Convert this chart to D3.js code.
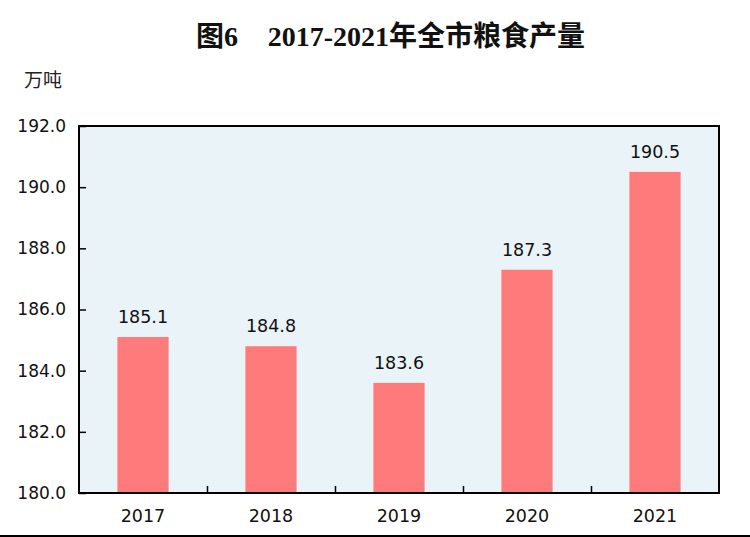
<!DOCTYPE html>
<html><head><meta charset="utf-8">
<script src="https://cdn.jsdelivr.net/npm/d3@7"></script>
<style>body{margin:0;background:#fff}svg{display:block}</style>
</head><body>
<svg id="c" width="750" height="537"></svg>
<script>
const categories = ["2017","2018","2019","2020","2021"];
const values = [185.1, 184.8, 183.6, 187.3, 190.5];
const yTicks = [180,182,184,186,188,190,192];
const titleA = "图6";
const titleB = "2017-2021年全市粮食产量";
const unit = "万吨";

const svg = d3.select("#c");
const m = {l:79, r:719, t:126, b:493};
const x = d3.scaleBand().domain(categories).range([m.l, m.r]).paddingInner(0).paddingOuter(0);
const y = d3.scaleLinear().domain([180,192]).range([m.b, m.t]);
const font = "'DejaVu Sans', sans-serif";

svg.append("rect").attr("x",m.l).attr("y",m.t).attr("width",m.r-m.l).attr("height",m.b-m.t)
  .attr("fill","#eaf3f8");

const bw = x.bandwidth()*0.4;
svg.selectAll("rect.bar").data(values).join("rect").attr("class","bar")
  .attr("x",(d,i)=>x(categories[i])+x.bandwidth()/2-bw/2)
  .attr("y",d=>y(d)).attr("width",bw).attr("height",d=>y(180)-y(d))
  .attr("fill","#ff7b7b");

svg.selectAll("text.val").data(values).join("text").attr("class","val")
  .attr("x",(d,i)=>x(categories[i])+x.bandwidth()/2)
  .attr("y",d=>y(d)-14).attr("text-anchor","middle")
  .attr("font-family",font).attr("font-size",17.5).attr("fill","#111")
  .text(d=>d.toFixed(1));

// axes
const yAxis = d3.axisLeft(y).tickValues(yTicks).tickFormat(d3.format(".1f")).tickSizeInner(-7).tickSizeOuter(0).tickPadding(13);
const gy = svg.append("g").attr("transform",`translate(${m.l},0)`).call(yAxis);
gy.select(".domain").remove();
gy.selectAll("line").attr("stroke","#000").attr("stroke-width",1.5);
gy.selectAll("text").attr("font-family",font).attr("font-size",17).attr("fill","#111");

const xb = d3.scaleLinear().domain([0,5]).range([m.l,m.r]);
const gx = svg.append("g").attr("transform",`translate(0,${m.b})`)
  .call(d3.axisBottom(xb).tickValues([1,2,3,4]).tickSize(-7).tickFormat(""));
gx.select(".domain").remove();
gx.selectAll("line").attr("stroke","#000").attr("stroke-width",1.5);

svg.selectAll("text.cat").data(categories).join("text").attr("class","cat")
  .attr("x",d=>x(d)+x.bandwidth()/2).attr("y",522).attr("text-anchor","middle")
  .attr("font-family",font).attr("font-size",17.5).attr("fill","#111").text(d=>d);

svg.append("rect").attr("x",m.l).attr("y",m.t).attr("width",m.r-m.l).attr("height",m.b-m.t)
  .attr("fill","none").attr("stroke","#000").attr("stroke-width",2);

svg.append("text").attr("x",24).attr("y",87).attr("font-family","'Noto Sans CJK SC', sans-serif")
  .attr("font-size",19).attr("fill","#222").text(unit);

const tf = "'Liberation Serif','Noto Sans CJK SC', serif";
svg.append("text").attr("x",196).attr("y",46)
  .attr("font-family",tf).attr("font-weight","bold")
  .attr("font-size",28).attr("fill","#111").text(titleA);
svg.append("text").attr("x",585).attr("y",46).attr("text-anchor","end")
  .attr("font-family",tf).attr("font-weight","bold")
  .attr("font-size",28).attr("fill","#111").text(titleB);

svg.append("line").attr("x1",0).attr("x2",750).attr("y1",536).attr("y2",536).attr("stroke","#000").attr("stroke-width",2);
</script>
</body></html>
